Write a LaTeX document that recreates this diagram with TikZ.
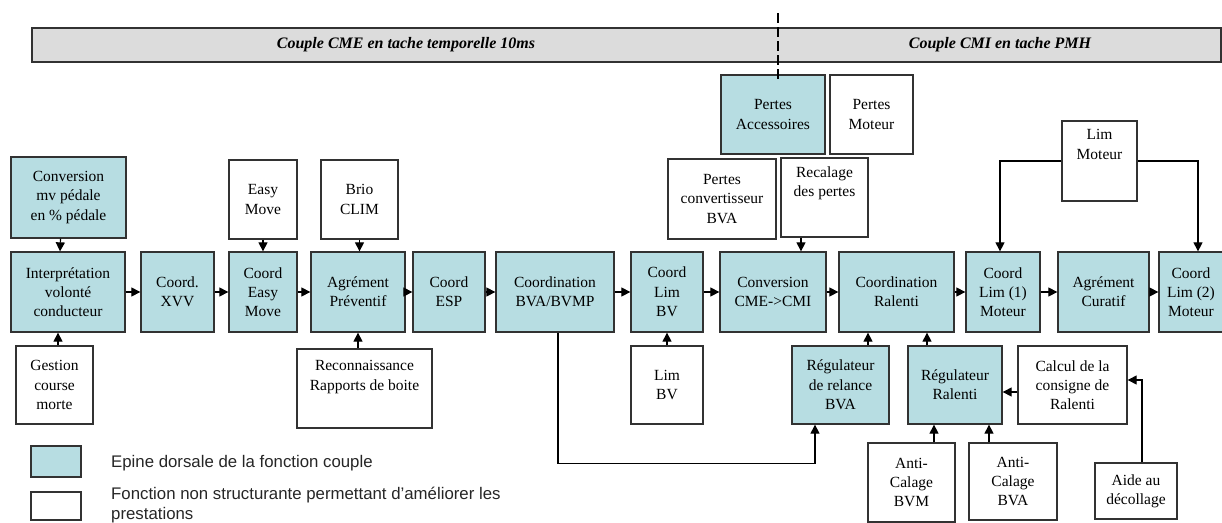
\documentclass[tikz,border=0pt]{standalone}
\usepackage{fontspec}
\setmainfont{Liberation Serif}
\setsansfont{Liberation Sans}
\usetikzlibrary{arrows.meta,positioning}
\definecolor{spine}{RGB}{183,221,226}
\definecolor{band}{RGB}{220,220,220}
\definecolor{edge}{RGB}{50,50,50}

\begin{document}
\begin{tikzpicture}[x=1pt, y=-1pt,
    box/.style={draw=edge, line width=1.3pt, align=center, inner sep=0pt,
        font=\fontsize{15.5}{19.3}\selectfont},
    spinebox/.style={box, fill=spine},
    plainbox/.style={box, fill=white},
    sz/.style 2 args={minimum width=#1, minimum height=#2},
    label txt/.style={align=center, inner sep=0pt, font=\fontsize{15.5}{19.3}\selectfont},
    legend/.style={align=left, inner sep=0pt, text=black!85,
        font=\sffamily\fontsize{16.8}{19.5}\selectfont},
    arr/.style={draw=black, line width=1.2pt, -{Triangle[length=9pt,width=9pt]}}]
    \useasboundingbox (0,0) rectangle (1222,522);

    % bandeau des taches
    \node[draw=edge, fill=band, line width=1.5pt, inner sep=0pt, sz={1189}{34}] (band) at (626.5,45) {};
    \node[font=\fontsize{16}{19}\selectfont\bfseries\itshape] (cme) at (406,45) {Couple CME en tache temporelle 10ms};
    \node[font=\fontsize{16}{19}\selectfont\bfseries\itshape] (cmi) at (1000,45) {Couple CMI en tache PMH};

    % chaine principale
    \node[spinebox, sz={114}{80}] (interp) at (68,292) {Interprétation\\volonté\\conducteur};
    \node[spinebox, sz={73}{80}] (xvv) at (177.5,292) {Coord.\\XVV};
    \node[spinebox, sz={68}{80}] (cem) at (263,292) {Coord\\Easy\\Move};
    \node[spinebox, sz={94}{80}] (agrp) at (358,292) {Agrément\\Préventif};
    \node[spinebox, sz={72}{80}] (esp) at (449,292) {Coord\\ESP};
    \node[spinebox, sz={118}{80}] (bva) at (555,292) {Coordination\\BVA/BVMP};
    \node[spinebox, sz={72}{80}] (limbv) at (667,292) {Coord\\Lim\\BV};
    \node[spinebox, sz={106}{80}] (conv) at (773,292) {Conversion\\CME->CMI};
    \node[spinebox, sz={115}{80}] (ral) at (896.5,292) {Coordination\\Ralenti};
    \node[spinebox, sz={74}{80}] (lim1) at (1003,292) {Coord\\Lim (1)\\Moteur};
    \node[spinebox, sz={91}{80}] (cur) at (1103.5,292) {Agrément\\Curatif};
    \node[spinebox, sz={64}{80}] (lim2) at (1191,292) {Coord\\Lim (2)\\Moteur};

    % blocs du haut
    \node[spinebox, sz={115}{81}] (convmv) at (68.5,197.5) {Conversion\\mv pédale\\en \% pédale};
    \node[plainbox, sz={68}{79}] (easy) at (263,199.5) {Easy\\Move};
    \node[plainbox, sz={77}{79}] (brio) at (359.5,199.5) {Brio\\CLIM};
    \node[plainbox, sz={108}{80}] (pconv) at (722,199) {Pertes\\convertisseur\\BVA};
    \node[plainbox, sz={87}{79}] (recal) at (824.5,197.5) {};
    \node[label txt, below=9pt of recal.north] (recal txt) {Recalage\\des pertes};
    \node[spinebox, sz={104}{79}] (pacc) at (773,114.5) {Pertes\\Accessoires};
    \node[plainbox, sz={83}{79}] (pmot) at (871.5,114.5) {Pertes\\Moteur};
    \node[plainbox, sz={75}{80}] (limmot) at (1099.5,161) {};
    \node[label txt, below=9pt of limmot.north] (limmot txt) {Lim\\Moteur};

    % separation 10ms / PMH
    \coordinate (sep top) at (778,13);
    \coordinate (sep bot) at (778,82);
    \draw[line width=2.8pt, dash pattern=on 10pt off 4pt] (sep top) -- (sep bot);

    % blocs du bas
    \node[plainbox, sz={77}{78}] (gest) at (54.5,385) {Gestion\\course\\morte};
    \node[plainbox, sz={135}{79}] (reco) at (364.5,388.5) {};
    \node[label txt, below=12pt of reco.north] (reco txt) {Reconnaissance\\Rapports de boite};
    \node[plainbox, sz={72}{78}] (limbvin) at (667,385) {Lim\\BV};
    \node[spinebox, sz={97}{78}] (rrel) at (840.5,385) {Régulateur\\de relance\\BVA};
    \node[spinebox, sz={94}{78}] (rral) at (955,385) {Régulateur\\Ralenti};
    \node[plainbox, sz={109}{78}] (calc) at (1072.5,385) {Calcul de la\\consigne de\\Ralenti};
    \node[plainbox, sz={87}{79}] (acbvm) at (911.5,482.5) {Anti-\\Calage\\BVM};
    \node[plainbox, sz={88}{77}] (acbva) at (1013,481.5) {Anti-\\Calage\\BVA};
    \node[plainbox, sz={82}{56}] (aide) at (1136,491) {Aide au\\décollage};

    % fleches de la chaine
    \foreach \a/\b in {interp/xvv, xvv/cem, cem/agrp, agrp/esp, esp/bva, bva/limbv,
        limbv/conv, conv/ral, ral/lim1, lim1/cur, cur/lim2}
        \draw[arr] (\a.east) -- (\b.west);

    % entrees
    \draw[arr] ([xshift=-8]convmv.south) -- ([xshift=-8]interp.north);
    \draw[arr] ([xshift=3.5]gest.north) -- ([xshift=3.5]gest.north |- interp.south);
    \draw[arr] (easy.south) -- (cem.north);
    \draw[arr] (brio.south) -- (brio.south |- agrp.north);
    \draw[arr] (agrp.south |- reco.north) -- (agrp.south);
    \draw[arr] ([xshift=-23.5]recal.south) -- ([xshift=-23.5]recal.south |- conv.north);
    \draw[arr] (limmot.west) -| ([xshift=-3]lim1.north);
    \draw[arr] (limmot.east) -| ([xshift=7]lim2.north);
    \draw[arr] (limbvin.north) -- (limbv.south);
    \draw[arr] ([xshift=3]bva.south) -- ++(0,131) -| ([xshift=-25.5]rrel.south);
    \draw[arr] ([xshift=27.5]rrel.north) -- ([xshift=27.5]rrel.north |- ral.south);
    \draw[arr] ([xshift=-28]rral.north) -- ([xshift=-28]rral.north |- ral.south);
    \draw[arr] ([xshift=22.5]acbvm.north) -- ([xshift=22.5]acbvm.north |- rral.south);
    \draw[arr] ([xshift=-24]acbva.north) -- ([xshift=-24]acbva.north |- rral.south);
    \draw[arr] ([yshift=-7]calc.west) -- ([yshift=-7]calc.west -| rral.east);
    \draw[arr] ([xshift=6]aide.north) |- ([yshift=5]calc.east);

    % legende
    \node[spinebox, sz={50}{31}] (key spine) at (56,461.5) {};
    \node[plainbox, sz={50}{28}] (key plain) at (56,506) {};
    \node[legend, anchor=west] (key spine txt) at (111,463) {Epine dorsale de la fonction couple};
    \node[legend, anchor=north west] (key plain txt) at (111,487) {Fonction non structurante permettant d’améliorer les\\prestations};
\end{tikzpicture}
\end{document}
